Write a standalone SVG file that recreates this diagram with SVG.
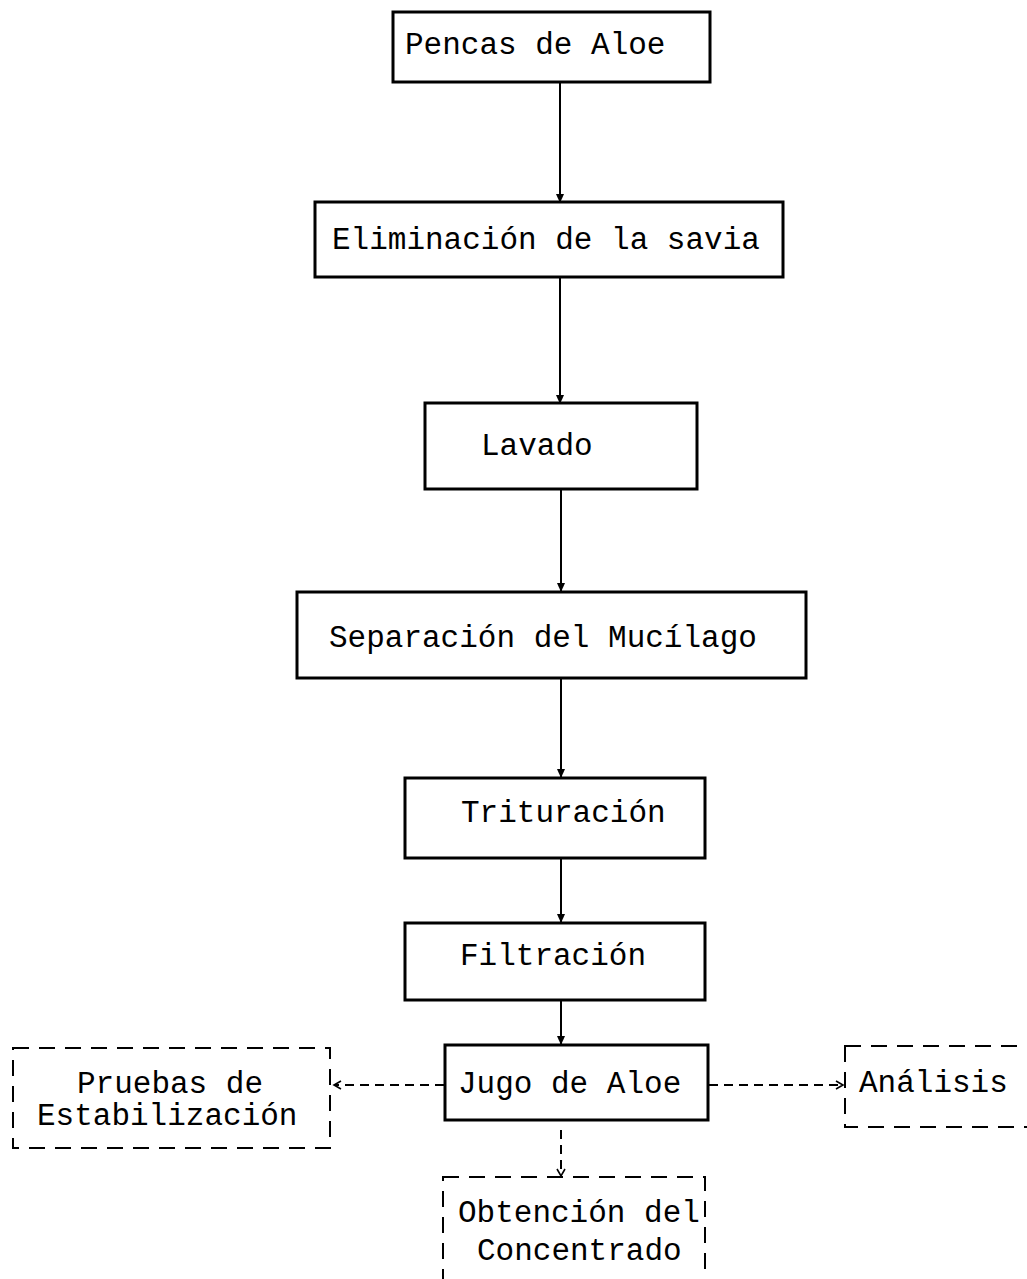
<svg xmlns="http://www.w3.org/2000/svg" width="1027" height="1279" viewBox="0 0 1027 1279">
<style>
.box{fill:#fff;stroke:#000;stroke-width:3}
.dbox{fill:none;stroke:#000;stroke-width:2;stroke-dasharray:16,10}
.t{font-family:"Liberation Mono","Courier New",monospace;font-size:31px;fill:#000}
.c{stroke:#000;stroke-width:2;fill:none}
.dc{stroke:#000;stroke-width:2;fill:none;stroke-dasharray:9,6}
</style>
<defs>
<marker id="ah" markerWidth="10" markerHeight="8" refX="8" refY="4" orient="auto" markerUnits="userSpaceOnUse">
<path d="M0,0 L9,4 L0,8 Z" fill="#000"/>
</marker>
<marker id="oh" markerWidth="10" markerHeight="10" refX="8" refY="5" orient="auto" markerUnits="userSpaceOnUse">
<path d="M1,1 L8,5 L1,9" fill="none" stroke="#000" stroke-width="1.6"/>
</marker>
</defs>
<rect width="1027" height="1279" fill="#fff"/>
<g id="connectors">
<line class="c" x1="560" y1="83" x2="560" y2="202" marker-end="url(#ah)"/>
<line class="c" x1="560" y1="278" x2="560" y2="403" marker-end="url(#ah)"/>
<line class="c" x1="561" y1="489" x2="561" y2="591" marker-end="url(#ah)"/>
<line class="c" x1="561" y1="679" x2="561" y2="777" marker-end="url(#ah)"/>
<line class="c" x1="561" y1="858" x2="561" y2="922" marker-end="url(#ah)"/>
<line class="c" x1="561" y1="1000" x2="561" y2="1044" marker-end="url(#ah)"/>
<line class="dc" x1="444" y1="1085" x2="334" y2="1085" marker-end="url(#oh)"/>
<line class="dc" x1="709" y1="1085" x2="843" y2="1085" marker-end="url(#oh)"/>
<line class="dc" x1="561" y1="1130" x2="561" y2="1176" marker-end="url(#oh)"/>
</g>
<g id="n1"><rect class="box" x="393" y="12" width="317" height="70"/><text class="t" x="405" y="54">Pencas de Aloe</text></g>
<g id="n2"><rect class="box" x="315" y="202" width="468" height="75"/><text class="t" x="332" y="249">Eliminación de la savia</text></g>
<g id="n3"><rect class="box" x="425" y="403" width="272" height="86"/><text class="t" x="481" y="455">Lavado</text></g>
<g id="n4"><rect class="box" x="297" y="592" width="509" height="86"/><text class="t" x="329" y="647">Separación del Mucílago</text></g>
<g id="n5"><rect class="box" x="405" y="778" width="300" height="80"/><text class="t" x="461" y="822">Trituración</text></g>
<g id="n6"><rect class="box" x="405" y="923" width="300" height="77"/><text class="t" x="460" y="965">Filtración</text></g>
<g id="n7"><rect class="box" x="445" y="1045" width="263" height="75"/><text class="t" x="458" y="1093">Jugo de Aloe</text></g>
<g id="n8"><rect class="dbox" x="13" y="1048" width="317" height="100"/><text class="t" x="77" y="1093">Pruebas de</text><text class="t" x="37" y="1125">Estabilización</text></g>
<g id="n9"><rect class="dbox" x="845" y="1046" width="200" height="81"/><text class="t" x="859" y="1092">Análisis</text></g>
<g id="n10"><rect class="dbox" x="443" y="1177" width="262" height="130"/><text class="t" x="458" y="1222">Obtención del</text><text class="t" x="477" y="1260">Concentrado</text></g>
</svg>
